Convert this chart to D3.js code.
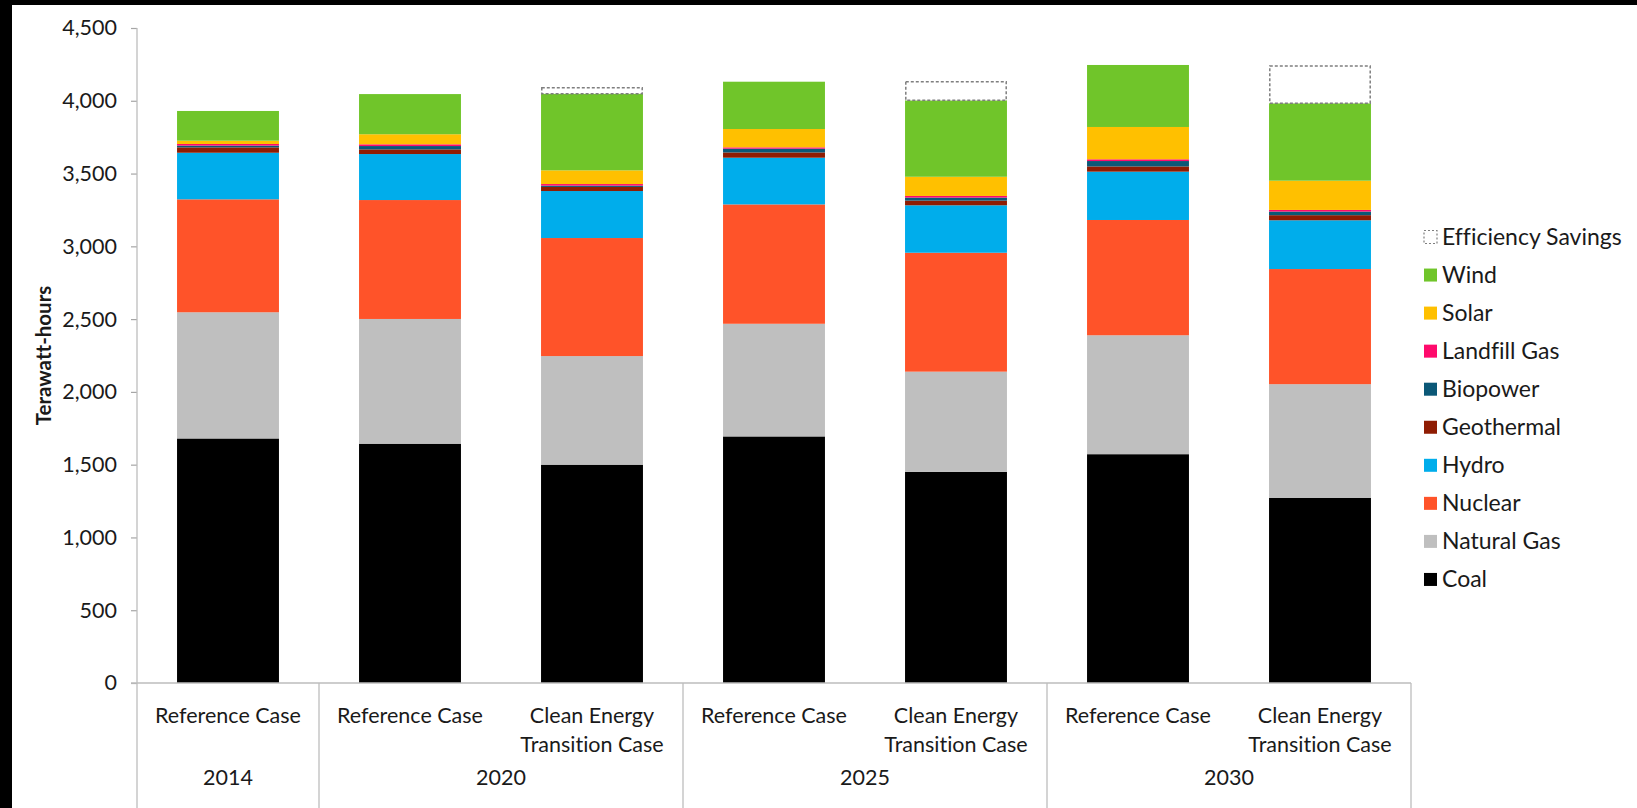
<!DOCTYPE html>
<html>
<head>
<meta charset="utf-8">
<script src="https://cdn.jsdelivr.net/npm/d3@7"></script>
<style>
  html, body { margin: 0; padding: 0; background: #fff; }
  svg { display: block; }
  text { font-family: Lato, "Open Sans", sans-serif; fill: #1a1a1a; font-variant-ligatures: none; }
</style>
</head>
<body>
<svg id="chart" width="1637" height="808"></svg>
<script>
// Case labels (one per bar) and the year each bar belongs to
const caseLabels = [
  ["Reference Case"],
  ["Reference Case"],
  ["Clean Energy", "Transition Case"],
  ["Reference Case"],
  ["Clean Energy", "Transition Case"],
  ["Reference Case"],
  ["Clean Energy", "Transition Case"]
];
const barYears = ["2014", "2020", "2020", "2025", "2025", "2030", "2030"];
const yearLabels = ["2014", "2020", "2025", "2030"];

// Generation by source, terawatt-hours (bottom of the stack first)
const coal        = [1680, 1644, 1500, 1694, 1450, 1572, 1271];
const naturalGas  = [867, 857, 746, 774, 689, 817, 782];
const nuclear     = [776, 817, 811, 820, 817, 792, 791];
const hydro       = [320, 316, 323, 321, 326, 332, 335];
const geothermal  = [37, 32, 28, 36, 32, 36, 35];
const biopower    = [12, 23, 9, 26, 21, 37, 25];
const landfillGas = [11, 12, 11, 9, 11, 12, 11];
const solar       = [23, 69, 94, 126, 132, 222, 201];
const wind        = [204, 276, 527, 325, 525, 426, 532];
const efficiency  = [0, 0, 41, 0, 128, 0, 256];

const seriesNames = ["Coal", "Natural Gas", "Nuclear", "Hydro", "Geothermal",
                     "Biopower", "Landfill Gas", "Solar", "Wind", "Efficiency Savings"];
const seriesValues = [coal, naturalGas, nuclear, hydro, geothermal,
                      biopower, landfillGas, solar, wind, efficiency];
const seriesColors = ["#000000", "#bfbfbf", "#ff5329", "#00adeb", "#8f1c03",
                      "#0b5877", "#ff0a6c", "#ffc000", "#70c52a", "#ffffff"];

const yTicks = [0, 500, 1000, 1500, 2000, 2500, 3000, 3500, 4000, 4500];

// Table rows for d3.stack
const rows = caseLabels.map((c, i) => {
  const r = { idx: i };
  seriesNames.forEach((s, k) => { r[s] = seriesValues[k][i]; });
  return r;
});

const svg = d3.select("#chart");
const W = 1637, H = 808;
const plot = { left: 137, right: 1411, top: 28, bottom: 683 };
const FONT = 21.5;

// Dark frame strips along the top and left edges
svg.append("rect").attr("x", 0).attr("y", 0).attr("width", W).attr("height", 5).attr("fill", "#000");
svg.append("rect").attr("x", 0).attr("y", 0).attr("width", 12).attr("height", H).attr("fill", "#000");

const x = d3.scaleBand()
  .domain(d3.range(caseLabels.length))
  .range([plot.left, plot.right])
  .paddingInner(0.44)
  .paddingOuter(0.22);

const y = d3.scaleLinear().domain([0, 4500]).range([plot.bottom, plot.top]);

const layers = d3.stack().keys(seriesNames)(rows);

// Stacked bars
const g = svg.append("g");
layers.forEach((layer, k) => {
  const isEff = seriesNames[k] === "Efficiency Savings";
  g.selectAll(null)
    .data(layer.filter(d => d[1] - d[0] > 0))
    .enter().append("rect")
    .attr("x", d => x(d.data.idx) + (isEff ? 0.75 : 0))
    .attr("width", x.bandwidth() - (isEff ? 1.5 : 0))
    .attr("y", d => y(d[1]))
    .attr("height", d => y(d[0]) - y(d[1]))
    .attr("fill", seriesColors[k])
    .attr("stroke", isEff ? "#7f7f7f" : "none")
    .attr("stroke-width", isEff ? 1.5 : 0)
    .attr("stroke-dasharray", isEff ? "3,2" : null);
});

// Value axis
const yAxis = d3.axisLeft(y)
  .tickValues(yTicks)
  .tickSize(6)
  .tickPadding(14)
  .tickFormat(d3.format(","));
const yG = svg.append("g")
  .attr("transform", `translate(${plot.left},0)`)
  .call(yAxis);
yG.select(".domain").remove();
yG.selectAll(".tick line").attr("stroke", "#a6a6a6").attr("stroke-width", 1.2);
yG.selectAll(".tick text")
  .attr("font-size", FONT)
  .style("font-family", "Lato, sans-serif")
  .attr("fill", "#1a1a1a");

const axisColor = "#bdbdbd";
// Vertical value-axis line, continuing down through the category area
svg.append("line")
  .attr("x1", plot.left).attr("x2", plot.left)
  .attr("y1", plot.top).attr("y2", H)
  .attr("stroke", axisColor).attr("stroke-width", 1.3);
// Category baseline
svg.append("line")
  .attr("x1", plot.left - 6).attr("x2", plot.right)
  .attr("y1", y(0)).attr("y2", y(0))
  .attr("stroke", axisColor).attr("stroke-width", 1.3);

// Year groups and dividers
const bandStart = i => plot.left + i * x.step();
yearLabels.forEach(yr => {
  const idxs = barYears.map((b, i) => b === yr ? i : -1).filter(i => i >= 0);
  const x0 = bandStart(idxs[0]);
  const x1 = bandStart(idxs[idxs.length - 1] + 1);
  svg.append("line")
    .attr("x1", x1).attr("x2", x1)
    .attr("y1", y(0)).attr("y2", H)
    .attr("stroke", axisColor).attr("stroke-width", 1.3);
  svg.append("text")
    .attr("x", (x0 + x1) / 2).attr("y", 785)
    .attr("text-anchor", "middle")
    .attr("font-size", FONT)
    .text(yr);
});

// Case labels under each bar
caseLabels.forEach((lines, i) => {
  const cx = x(i) + x.bandwidth() / 2;
  const t = svg.append("text")
    .attr("text-anchor", "middle")
    .attr("font-size", FONT);
  lines.forEach((ln, j) => {
    t.append("tspan").attr("x", cx).attr("y", 723 + j * 29).text(ln);
  });
});

// Axis title
svg.append("text")
  .attr("transform", `translate(51,${(plot.top + plot.bottom) / 2}) rotate(-90)`)
  .attr("text-anchor", "middle")
  .attr("font-size", 20.5)
  .attr("font-weight", "bold")
  .text("Terawatt-hours");

// Legend, top entry is the top of the stack
const legendOrder = d3.range(seriesNames.length).reverse();
const lg = svg.append("g");
legendOrder.forEach((k, j) => {
  const cy = 237 + j * 38.05;
  const isEff = seriesNames[k] === "Efficiency Savings";
  lg.append("rect")
    .attr("x", 1424).attr("y", cy - 6.5)
    .attr("width", 13).attr("height", 13)
    .attr("fill", seriesColors[k])
    .attr("stroke", isEff ? "#7f7f7f" : "none")
    .attr("stroke-width", isEff ? 1.2 : 0)
    .attr("stroke-dasharray", isEff ? "2,2" : null);
  lg.append("text")
    .attr("x", 1442).attr("y", cy + 8)
    .attr("font-size", 23)
    .text(seriesNames[k]);
});
</script>
</body>
</html>
